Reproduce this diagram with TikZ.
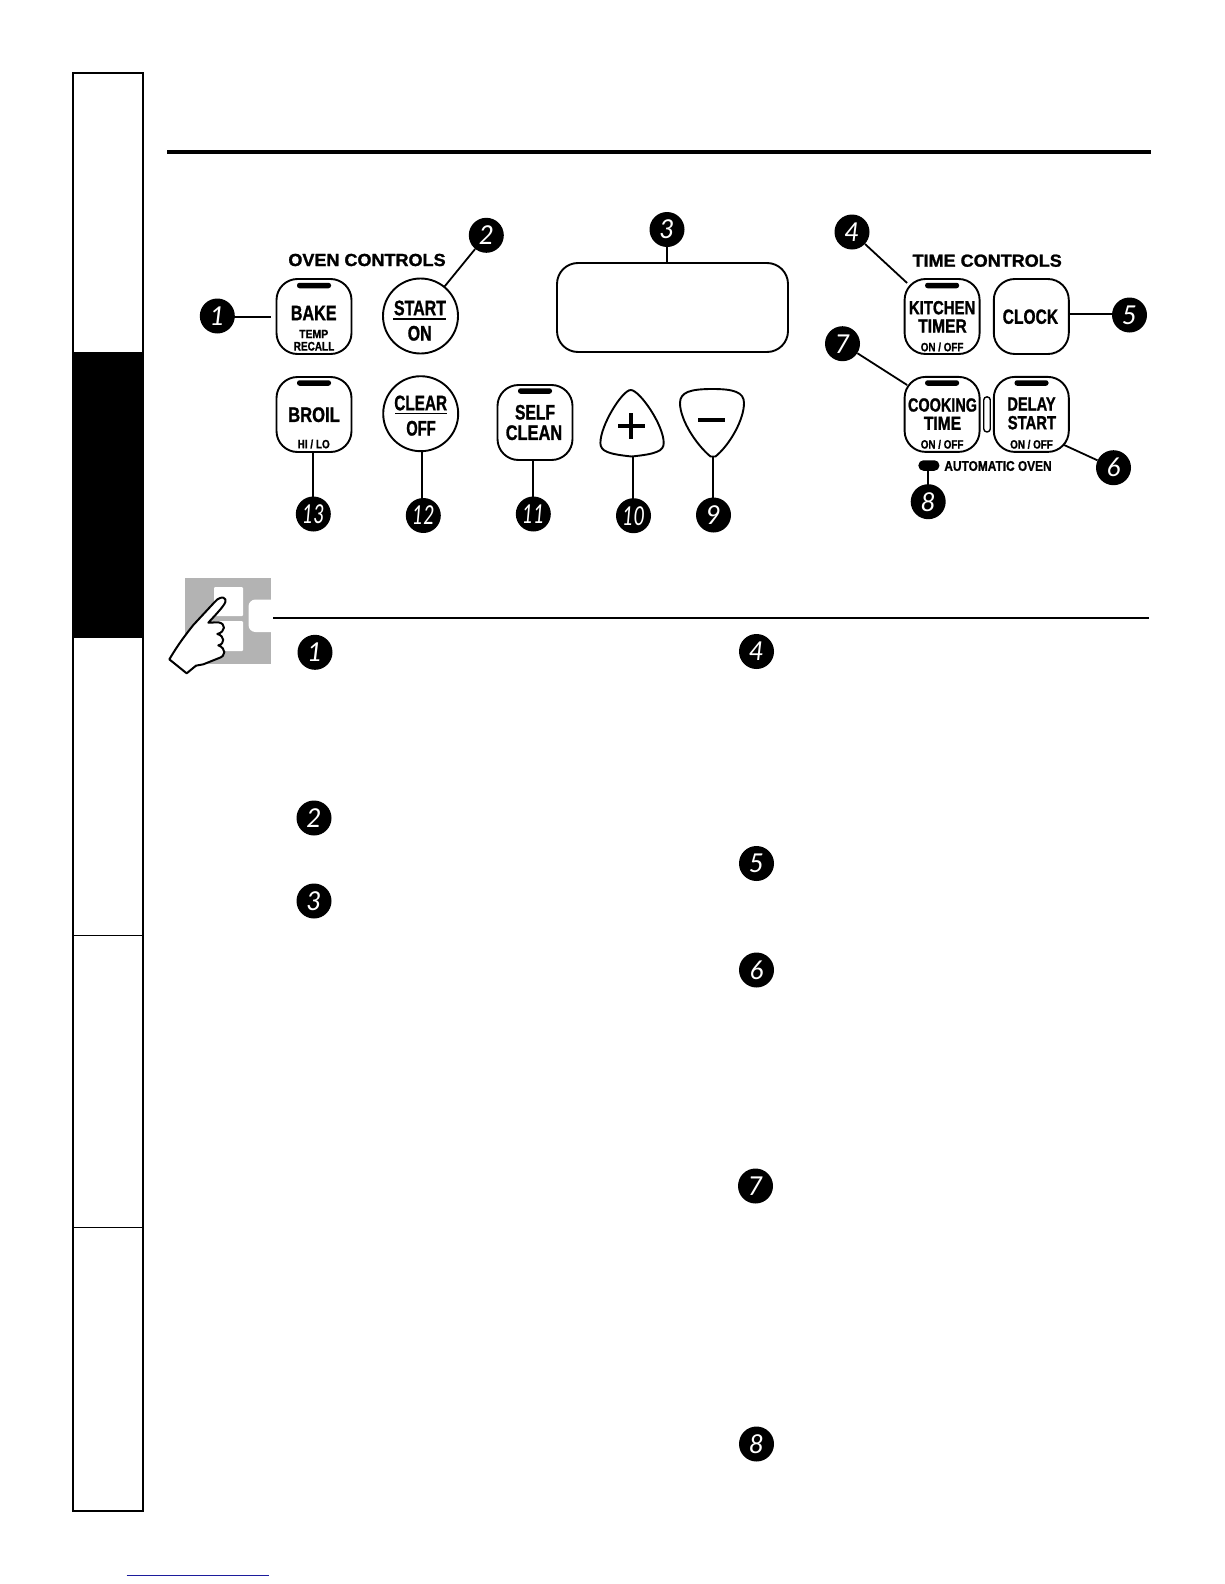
\documentclass[tikz,border=0pt]{standalone}
\usepackage{fontspec}
\setmainfont[BoldFeatures={FakeBold=1.3}]{Liberation Sans}
\newfontfamily\ballfont{Lato}
\newcommand{\lbl}[3]{\fontsize{#2}{#2}\selectfont\bfseries\scalebox{#1}[1]{#3}}
\newcommand{\twod}[1]{\scalebox{.74}[1]{#1}}
\tikzset{
  ball/.style={circle,fill=black,text=white,minimum size=35pt,inner sep=0pt,font=\ballfont\itshape\fontsize{26}{26}\selectfont},
  btn/.style={draw=black,line width=1.9pt,fill=white,rectangle,rounded corners=21pt,minimum width=75pt,minimum height=75pt,inner sep=0pt},
  cbtn/.style={draw=black,line width=1.9pt,fill=white,circle,minimum size=75pt,inner sep=0pt},
  pill/.style={fill=black,rectangle,rounded corners=2.5pt,minimum width=34pt,minimum height=5.5pt,inner sep=0pt},
  txt/.style={inner sep=0pt,text=black},
  conn/.style={line width=1.8pt,draw=black},
}
\definecolor{handgray}{HTML}{B3B3B3}
\definecolor{linkblue}{HTML}{1C1C9C}
\begin{document}
\begin{tikzpicture}[x=1pt,y=-1pt]
\useasboundingbox (0,0) rectangle (1224,1584);
\fill[white] (0,0) rectangle (1224,1584);
% sidebar
\fill[black] (73,351.5) rectangle (143,638);
\draw[line width=2.2pt] (73,73) rectangle (143,1511);
\draw[line width=1pt] (73,935) -- (143,935);
\draw[line width=1pt] (73,1227) -- (143,1227);
% rules
\draw[line width=3.6pt] (167,152) -- (1151,152);
\draw[line width=1.7pt] (273,617.7) -- (1149,617.7);
\draw[line width=1.5pt,linkblue] (126.7,1575.3) -- (269,1575.3);
% hand icon
\fill[handgray] (185,578) rectangle (271,664);
\fill[white,rounded corners=1pt] (214,587) rectangle (243,616);
\fill[white,rounded corners=1pt] (214,621) rectangle (243,651);
\fill[white,rounded corners=7pt] (271,599.5) -- (248.5,599.5) -- (248.5,632) -- (271,632);
\begin{scope}[shift={(160,570)},x=0.3333pt,y=-0.3333pt]
\draw[line width=2pt,fill=white,line join=round]
 (80,310) -- (28,268) .. controls (45,240) and (60,215) .. (100,165)
 -- (165,95) .. controls (175,83) and (190,78) .. (196,88)
 .. controls (200,97) and (190,110) .. (145,158)
 -- (175,157) .. controls (198,160) and (198,185) .. (172,192)
 .. controls (195,198) and (195,222) .. (175,226)
 .. controls (198,235) and (200,258) .. (175,265)
 -- (130,283) -- (108,287) -- cycle;
\end{scope}
% headings
\node[txt] (ovenhead) at (367,260) {\lbl{1.03}{17.5}{OVEN CONTROLS}};
% display
\node[btn,minimum width=231pt,minimum height=89pt] (display) at (672.5,307.5) {};
% buttons
\node[btn] (bake) at (314,316.5) {};
\node[pill] (bakepill) at (314,285.5) {};
\node[txt] (baket) at (313.7,313) {\lbl{.77}{21}{BAKE}};
\node[txt] (bakes) at (313.7,334) {\lbl{.87}{12}{TEMP}};
\node[txt] (bakeu) at (314,346.3) {\lbl{.8}{12.5}{RECALL}};
\node[cbtn] (start) at (420.5,316) {};
\node[txt] (startt) at (420,308) {\lbl{.76}{21}{START}};
\node[txt] (startb) at (419.7,333.3) {\lbl{.76}{21}{ON}};
\draw[line width=1.4pt] (393.3,319) -- (445.7,319);
\node[btn] (broil) at (314,414.5) {};
\node[pill] (broilpill) at (314,383) {};
\node[txt] (broilt) at (314,414.7) {\lbl{.79}{21}{BROIL}};
\node[txt] (broils) at (313.7,444) {\lbl{.83}{12}{HI / LO}};
\node[cbtn] (clear) at (420.7,413.7) {};
\node[txt] (cleart) at (420.7,403) {\lbl{.73}{21}{CLEAR}};
\node[txt] (clearb) at (421,428.3) {\lbl{.70}{21}{OFF}};
\draw[line width=1.4pt] (395.3,413.7) -- (446.7,413.7);
\node[btn] (self) at (535,422.5) {};
\node[pill] (selfpill) at (535,391) {};
\node[txt] (selft) at (535,412.3) {\lbl{.745}{21}{SELF}};
\node[txt] (selfb) at (534,432.7) {\lbl{.78}{21}{CLEAN}};
% plus / minus
\begin{scope}[xshift=-1.5pt]
\draw[line width=1.9pt,fill=white] (632.2,390) .. controls (624,390) and (601.9,425) .. (601.9,443)
  .. controls (601.9,451) and (609,454) .. (633,456.5)
  .. controls (658,454) and (665.2,451) .. (665.2,443)
  .. controls (665.2,425) and (641,390) .. cycle;
\draw[line width=4pt] (619.5,425.7) -- (646.5,425.7);
\draw[line width=4pt] (632.6,413) -- (632.6,438.7);
\draw[line width=1.9pt,fill=white] (714,389) .. controls (735,389) and (745.5,392) .. (745.5,403)
  .. controls (745.5,420) and (731,445) .. (717,456.5) -- (712,456.5)
  .. controls (698,445) and (681.5,420) .. (681.5,403)
  .. controls (681.5,392) and (692,389) .. cycle;
\draw[line width=4pt] (699.8,419.7) -- (726,419.7);
\coordinate (c9) at (714.7,456.7);
\coordinate (c9b) at (714.7,500);
\coordinate (c10) at (634.4,456.5);
\coordinate (c10b) at (634.4,500);
\node[ball] (b9) at (715,515) {9};
\node[ball] (b10) at (635,515.7) {\twod{10}};
\end{scope}
% time group
\begin{scope}[xshift=-2.5pt]
\node[txt] (timehead) at (989.7,260.7) {\lbl{1.03}{17.5}{TIME CONTROLS}};
\node[btn] (kitchen) at (944.6,316.5) {};
\node[pill] (kitchenpill) at (944.6,285.5) {};
\node[txt] (kitchent) at (944.6,307.7) {\lbl{.787}{19}{KITCHEN}};
\node[txt] (kitchenb) at (945,326) {\lbl{.82}{19}{TIMER}};
\node[txt] (kitchens) at (944.6,347) {\lbl{.82}{12}{ON / OFF}};
\node[btn] (clock) at (1033.8,316.5) {};
\node[txt] (clockt) at (1032.9,316.7) {\lbl{.76}{20.5}{CLOCK}};
\node[btn] (cooking) at (944.6,414.4) {};
\node[pill] (cookingpill) at (944.6,383) {};
\node[txt] (cookingt) at (945,405) {\lbl{.76}{19}{COOKING}};
\node[txt] (cookingb) at (945,423.3) {\lbl{.82}{19}{TIME}};
\node[txt] (cookings) at (944.6,444.3) {\lbl{.82}{12}{ON / OFF}};
\node[btn] (delay) at (1033.8,414.4) {};
\node[pill] (delaypill) at (1034,383) {};
\node[txt] (delayt) at (1034,404) {\lbl{.77}{19}{DELAY}};
\node[txt] (delayb) at (1034.4,422.7) {\lbl{.78}{19}{START}};
\node[txt] (delays) at (1034,444.3) {\lbl{.82}{12}{ON / OFF}};
\node[draw=black,line width=1.4pt,rectangle,rounded corners=3pt,minimum width=6.5pt,minimum height=35pt,inner sep=0pt] (slit) at (989.5,414.4) {};
\node[fill=black,rectangle,rounded corners=5pt,minimum width=21pt,minimum height=10.5pt,inner sep=0pt] (autopill) at (931.4,465.5) {};
\node[txt] (autotext) at (1000.5,466) {\lbl{.85}{14}{AUTOMATIC OVEN}};
\node[ball] (b4) at (854.5,232) {4};
\node[ball] (b5) at (1132,315) {5};
\node[ball] (b6) at (1116,467.7) {6};
\node[ball] (b7) at (845,343.7) {7};
\node[ball] (b8) at (930.7,501.7) {8};
\coordinate (c4) at (909.6,283);
\coordinate (c5) at (1071.4,313.7);
\coordinate (c5b) at (1116,313.7);
\coordinate (c6) at (1066.6,445);
\coordinate (c7) at (909.6,385);
\coordinate (c8) at (930.7,470);
\coordinate (c8b) at (930.7,486);
\end{scope}
% balls on the panel
\node[ball] (b1) at (217.3,316) {1};
\node[ball] (b2) at (486.3,235.3) {2};
\node[ball] (b3) at (667,229.5) {3};
\node[ball] (b11) at (533.3,514) {\twod{11}};
\node[ball] (b12) at (423.3,515.5) {\twod{12}};
\node[ball] (b13) at (313.3,514) {\twod{13}};
% connector ends
\coordinate (c1) at (270.7,316.7);
\coordinate (c1b) at (233,316.7);
\coordinate (c3) at (667,263);
\coordinate (c11) at (532.7,460);
\coordinate (c12) at (422,452);
\coordinate (c13) at (313,452);
\coordinate (c11b) at (532.7,498);
\coordinate (c12b) at (422,499);
\coordinate (c13b) at (313,498);
\coordinate (c3b) at (667,246);
\draw[conn] (c1b) -- (c1);
\draw[conn] (b2) -- (start);
\draw[conn] (c3b) -- (c3);
\draw[conn] (b4) -- (c4);
\draw[conn] (c5) -- (c5b);
\draw[conn] (b6) -- (c6);
\draw[conn] (b7) -- (c7);
\draw[conn] (c8) -- (c8b);
\draw[conn] (c9) -- (c9b);
\draw[conn] (c10) -- (c10b);
\draw[conn] (c11) -- (c11b);
\draw[conn] (c12) -- (c12b);
\draw[conn] (c13) -- (c13b);
% balls in the text columns
\node[ball] (n1) at (315,652.3) {1};
\node[ball] (n2) at (314,818) {2};
\node[ball] (n3) at (314,901) {3};
\node[ball] (n4) at (756.5,651.5) {4};
\node[ball] (n5) at (756.5,863.5) {5};
\node[ball] (n6) at (756.5,970) {6};
\node[ball] (n7) at (755.5,1186) {7};
\node[ball] (n8) at (756.5,1444) {8};
\end{tikzpicture}
\end{document}
